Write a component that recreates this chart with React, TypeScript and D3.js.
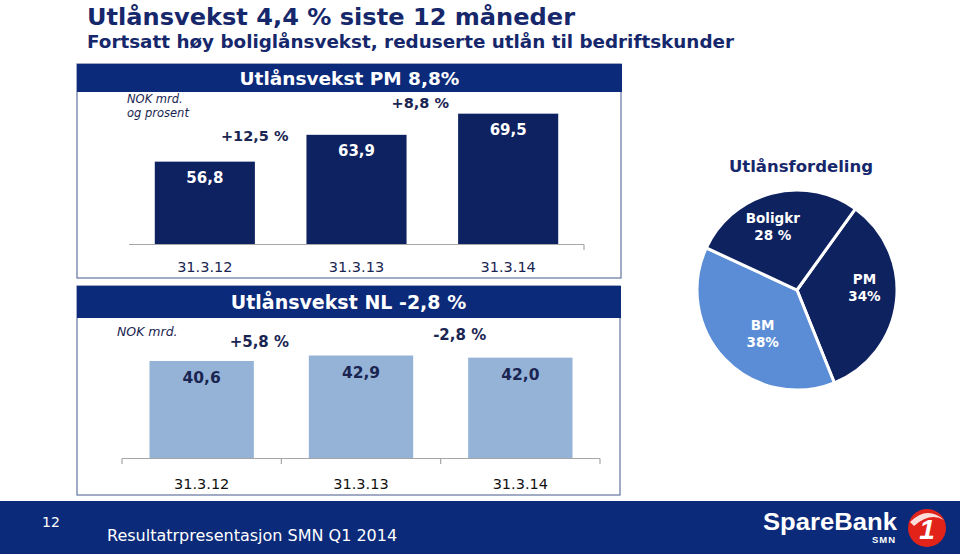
import React from 'react';
import * as d3 from 'd3';

// ---------- data ----------
const dates = ['31.3.12', '31.3.13', '31.3.14'];
const pmValues = [56.8, 63.9, 69.5];
const pmGrowth = ['+12,5 %', '+8,8 %'];
const nlValues = [40.6, 42.9, 42.0];
const nlGrowth = ['+5,8 %', '-2,8 %'];
const pieNames = ['PM', 'BM', 'Boligkr'];
const pieValues = [34, 38, 28];
const pieText = ['34%', '38%', '28 %'];

const title = 'Utlånsvekst 4,4 % siste 12 måneder';
const subtitle = 'Fortsatt høy boliglånsvekst, reduserte utlån til bedriftskunder';
const pmHeader = 'Utlånsvekst PM 8,8%';
const nlHeader = 'Utlånsvekst NL -2,8 %';
const pieTitle = 'Utlånsfordeling';
const footerText = 'Resultatrpresentasjon SMN Q1 2014';
const pageNo = '12';

// ---------- styles ----------
const FONT = '"DejaVu Sans", Verdana, sans-serif';
const TITLE_C = '#16286b';
const BAND_C = '#0b2a7a';
const BAR_DARK = '#0e2160';
const BAR_LIGHT = '#95b3d7';
const PIE_DARK = '#0f2260';
const PIE_LIGHT = '#5b8dd6';
const BORDER_C = '#6f7ea8';
const AXIS_C = '#a6a6a6';
const TEXT_C = '#1a2552';

const fmt = (v: number) => v.toFixed(1).replace('.', ',');

export default function App() {
  // top chart (PM)
  const xTop = d3.scaleBand<string>().domain(dates).range([129, 584]).paddingInner(0.34).paddingOuter(0.17);
  const yTop = d3.scaleLinear().domain([35, 80]).range([244, 74]);
  // bottom chart (NL)
  const xBot = d3.scaleBand<string>().domain(dates).range([122, 600]).paddingInner(0.345).paddingOuter(0.1725);
  const yBot = d3.scaleLinear().domain([0, 45]).range([458, 458 - 45 * 2.389]);

  const pieCx = 797, pieCy = 290, pieR = 100;
  const start = (35.7 * Math.PI) / 180;
  const pie = d3.pie<number>().sort(null).value((d) => d).startAngle(start).endAngle(start + 2 * Math.PI);
  const arcs = pie(pieValues);
  const arc = d3.arc<d3.PieArcDatum<number>>().innerRadius(0).outerRadius(pieR);
  const labelArc = d3.arc<d3.PieArcDatum<number>>().innerRadius(68).outerRadius(68);
  const labelNudge = [[0, -8], [15, -1], [-7, 5]];

  const topGrowthPos = [
    { dx: -26, y: 141 },
    { dx: -12, y: 108 },
  ];
  const botGrowthPos = [
    { dx: -22, y: 347 },
    { dx: 19, y: 340 },
  ];

  const boundary = (sc: d3.ScaleBand<string>, i: number) =>
    (sc(dates[i]) as number) + sc.bandwidth() + (sc.step() - sc.bandwidth()) / 2;

  const botTicks = [xBot.range()[0], boundary(xBot, 0), boundary(xBot, 1), xBot.range()[1]];

  return (
    <svg
      width={960}
      height={554}
      style={{ position: 'absolute', left: 0, top: 0, background: '#fff' }}
      fontFamily={FONT}
    >
      <rect x={0} y={0} width={960} height={554} fill="#fff" />
      {/* titles */}
      <text x={87} y={25} fontSize={23.5} fontWeight="bold" fill={TITLE_C} textLength={488} lengthAdjust="spacingAndGlyphs">{title}</text>
      <text x={87} y={48} fontSize={17.5} fontWeight="bold" fill={TITLE_C} textLength={647} lengthAdjust="spacingAndGlyphs">{subtitle}</text>

      {/* ---------- top panel ---------- */}
      <rect x={77} y={64} width={544} height={214} fill="none" stroke={BORDER_C} strokeWidth={1.3} />
      <rect x={77} y={64} width={545} height={28} fill={BAND_C} />
      <text x={349.5} y={85} textAnchor="middle" fontSize={18.5} fontWeight="bold" fill="#fff">{pmHeader}</text>
      <text x={127} y={103} fontSize={11.5} fontStyle="italic" fill={TEXT_C}>NOK mrd.</text>
      <text x={127} y={117} fontSize={11.5} fontStyle="italic" fill={TEXT_C}>og prosent</text>
      {pmValues.map((v, i) => (
        <g key={'pm' + i}>
          <rect x={xTop(dates[i])} y={yTop(v)} width={xTop.bandwidth()} height={yTop.range()[0] - yTop(v)} fill={BAR_DARK} />
          <text x={(xTop(dates[i]) as number) + xTop.bandwidth() / 2} y={yTop(v) + 21.5} textAnchor="middle" fontSize={15} fontWeight="bold" fill="#fff">{fmt(v)}</text>
          <text x={(xTop(dates[i]) as number) + xTop.bandwidth() / 2} y={272} textAnchor="middle" fontSize={14.5} fill={TEXT_C}>{dates[i]}</text>
        </g>
      ))}
      <line x1={xTop.range()[0]} x2={xTop.range()[1]} y1={244.5} y2={244.5} stroke={AXIS_C} strokeWidth={1.2} />
      <line x1={xTop.range()[1]} x2={xTop.range()[1]} y1={244.5} y2={250} stroke={AXIS_C} strokeWidth={1.2} />
      {pmGrowth.map((g, i) => (
        <text key={'pg' + i} x={boundary(xTop, i) + topGrowthPos[i].dx} y={topGrowthPos[i].y} textAnchor="middle" fontSize={14.5} fontWeight="bold" fill={TEXT_C}>{g}</text>
      ))}

      {/* ---------- bottom panel ---------- */}
      <rect x={77} y={286} width={543} height={209} fill="none" stroke={BORDER_C} strokeWidth={1.3} />
      <rect x={77} y={286} width={544} height={32} fill={BAND_C} />
      <text x={348.5} y={309} textAnchor="middle" fontSize={19} fontWeight="bold" fill="#fff">{nlHeader}</text>
      <text x={117} y={336} fontSize={12.5} fontStyle="italic" fill={TEXT_C}>NOK mrd.</text>
      {nlValues.map((v, i) => (
        <g key={'nl' + i}>
          <rect x={xBot(dates[i])} y={yBot(v)} width={xBot.bandwidth()} height={yBot.range()[0] - yBot(v)} fill={BAR_LIGHT} />
          <text x={(xBot(dates[i]) as number) + xBot.bandwidth() / 2} y={yBot(v) + 22} textAnchor="middle" fontSize={15.5} fontWeight="bold" fill={TEXT_C}>{fmt(v)}</text>
          <text x={(xBot(dates[i]) as number) + xBot.bandwidth() / 2} y={489} textAnchor="middle" fontSize={14.5} fill="#111">{dates[i]}</text>
        </g>
      ))}
      <line x1={xBot.range()[0]} x2={xBot.range()[1]} y1={458.5} y2={458.5} stroke={AXIS_C} strokeWidth={1.2} />
      {botTicks.map((t, i) => (
        <line key={'bt' + i} x1={t} x2={t} y1={458.5} y2={464} stroke={AXIS_C} strokeWidth={1.2} />
      ))}
      {nlGrowth.map((g, i) => (
        <text key={'ng' + i} x={boundary(xBot, i) + botGrowthPos[i].dx} y={botGrowthPos[i].y} textAnchor="middle" fontSize={15} fontWeight="bold" fill={TEXT_C}>{g}</text>
      ))}

      {/* ---------- pie ---------- */}
      <text x={801} y={172} textAnchor="middle" fontSize={16.5} fontWeight="bold" fill={TITLE_C}>{pieTitle}</text>
      <g transform={`translate(${pieCx},${pieCy})`}>
        {arcs.map((a, i) => (
          <path key={'p' + i} d={arc(a) as string} fill={i === 1 ? PIE_LIGHT : PIE_DARK} stroke="#fff" strokeWidth={3} />
        ))}
        {arcs.map((a, i) => {
          const [cx, cy] = labelArc.centroid(a);
          const x = cx + labelNudge[i][0];
          const y = cy + labelNudge[i][1];
          return (
            <g key={'pl' + i} fontWeight="bold" fill="#fff" fontSize={13.5} textAnchor="middle">
              <text x={x} y={y - 6}>{pieNames[i]}</text>
              <text x={x} y={y + 11}>{pieText[i]}</text>
            </g>
          );
        })}
      </g>

      {/* ---------- footer ---------- */}
      <rect x={0} y={501} width={960} height={53} fill={BAND_C} />
      <text x={42} y={527} fontSize={14} fill="#fff">{pageNo}</text>
      <text x={107} y={541} fontSize={16} fill="#fff">{footerText}</text>
      <text x={763} y={530} fontSize={23} fontWeight="bold" fill="#fff" fontFamily='"Liberation Sans", Arial, sans-serif' textLength={134} lengthAdjust="spacingAndGlyphs">SpareBank</text>
      <text x={872} y={543} fontSize={9.5} fontWeight="bold" fill="#fff" fontFamily='"Liberation Sans", Arial, sans-serif' letterSpacing={1}>SMN</text>
      <circle cx={927} cy={528} r={19} fill="#e2231a" />
      <path d="M 910 522 Q 927 505 944 520 Q 930 512 914 526 Z" fill="#fff" opacity={0.85} />
      <text x={927} y={539} textAnchor="middle" fontSize={28} fontWeight="bold" fontStyle="italic" fill="#fff" fontFamily='"Liberation Sans", Arial, sans-serif'>1</text>
    </svg>
  );
}
